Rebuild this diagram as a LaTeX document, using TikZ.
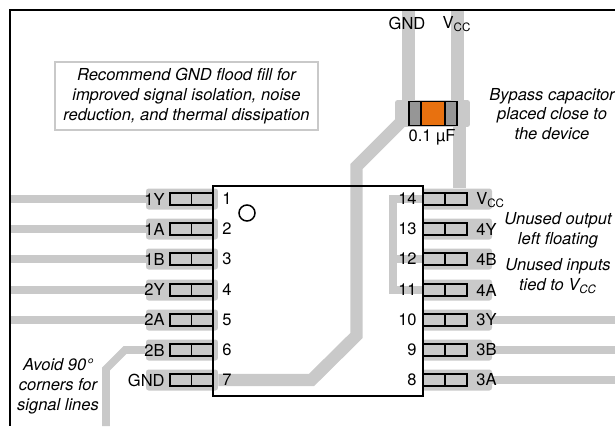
\documentclass[tikz,border=0pt]{standalone}
\usepackage{fontspec}
\setmainfont{TeX Gyre Heros}
\usepackage{tikz}
\usetikzlibrary{calc}
\definecolor{tracegray}{RGB}{201,201,201}
\definecolor{capgray}{RGB}{150,150,150}
\definecolor{caporange}{RGB}{232,113,15}
\newcommand{\vcc}{V\textsubscript{CC}}

\begin{document}
\begin{tikzpicture}[x=0.02cm, y=-0.02cm, inner sep=0pt,
   every node/.style={font=\fontsize{9.4}{11.3}\selectfont, align=center},
   trace/.style={draw=tracegray, line width=4.4pt},
   power/.style={draw=tracegray, line width=7pt},
   land/.style={fill=tracegray, rounded corners=1.5pt, minimum height=0.42cm},
   pinpad/.style={draw, line width=1.05pt, fill=tracegray, minimum width=0.87cm, minimum height=0.24cm,
      path picture={\draw[line width=1.05pt] (path picture bounding box.north) -- (path picture bounding box.south);}},
   note/.style={font=\fontsize{9.4}{11.3}\selectfont\itshape}]
  \useasboundingbox (0,0) rectangle (615,426);
  \coordinate (fl) at (10,0);
  \coordinate (fr) at (615,0);
  \coordinate (ft) at (0,10);
  % lands, left side
  \node[land, minimum width=1.44cm] (l1) at (182,199) {};
  \node[land, minimum width=1.44cm] (l2) at (182,229) {};
  \node[land, minimum width=1.44cm] (l3) at (182,259) {};
  \node[land, minimum width=1.44cm] (l4) at (182,290) {};
  \node[land, minimum width=1.44cm] (l5) at (182,320) {};
  \node[land, minimum width=1.44cm] (l6) at (182,350) {};
  \node[land, minimum width=1.44cm] (l7) at (182,380) {};
  % lands, right side
  \node[land, minimum width=1.4cm] (l14) at (457,199) {};
  \node[land, minimum width=1.4cm] (l13) at (457,229) {};
  \node[land, minimum width=1.4cm] (l12) at (457,259) {};
  \node[land, minimum width=1.4cm] (l11) at (457,290) {};
  \node[land, minimum width=1.4cm] (l10) at (457,320) {};
  \node[land, minimum width=1.4cm] (l9) at (457,350) {};
  \node[land, minimum width=1.4cm] (l8) at (457,380) {};
  \node[land, minimum width=1.5cm, minimum height=0.54cm] (capland) at (432.5,113.5) {};
  % signal traces
  \draw[trace] (l1) -- (l1 -| fl);
  \draw[trace] (l2) -- (l2 -| fl);
  \draw[trace] (l3) -- (l3 -| fl);
  \draw[trace] (l4) -- (l4 -| fl);
  \draw[trace] (l5) -- (l5 -| fl);
  \draw[trace] (l10) -- (l10 -| fr);
  \draw[trace] (l9) -- (l9 -| fr);
  \draw[trace] (l8) -- (l8 -| fr);
  \coordinate (c1) at (125,350);
  \coordinate (c2) at (106,369);
  \coordinate (c3) at (106,426);
  \draw[trace] (l6) -- (c1) -- (c2) -- (c3);
  % power traces
  \coordinate (g1) at (311.5,380);
  \coordinate (g2) at (356.5,335.5);
  \coordinate (g3) at (356.5,166.5);
  \coordinate (g4) at (400,123);
  \draw[power] (l7) -- (g1) -- (g2) -- (g3) -- (g4);
  \coordinate (gt) at (408.5,10);
  \coordinate (vt) at (457.5,10);
  \draw[power] (gt) -- (gt |- capland.north);
  \draw[power] (vt) -- (vt |- capland.north);
  \coordinate (vb) at (459.5,113);
  \draw[power] (vb) -- (vb |- l14.north);
  % note box
  \node[note, draw=tracegray, line width=1.1pt, minimum width=5.26cm, minimum height=1.36cm] (floodnote) at (186.5,96)
     {Recommend GND flood fill for\\ improved signal isolation, noise\\ reduction, and thermal dissipation};
  % pads
  \node[pinpad] (p1) at (191.5,199) {};
  \node[pinpad] (p2) at (191.5,229) {};
  \node[pinpad] (p3) at (191.5,259) {};
  \node[pinpad] (p4) at (191.5,290) {};
  \node[pinpad] (p5) at (191.5,320) {};
  \node[pinpad] (p6) at (191.5,350) {};
  \node[pinpad] (p7) at (191.5,380) {};
  \node[pinpad] (p14) at (445,199) {};
  \node[pinpad] (p13) at (445,229) {};
  \node[pinpad] (p12) at (445,259) {};
  \node[pinpad] (p11) at (445,290) {};
  \node[pinpad] (p10) at (445,320) {};
  \node[pinpad] (p9) at (445,350) {};
  \node[pinpad] (p8) at (445,380) {};
  % tied inputs
  \coordinate (b14) at (393,199);
  \coordinate (b11) at (393,290);
  \draw[trace] (p14.west) -- (b14) -- (b11) -- (p11.west);
  \draw[trace] (b14 |- p12) -- (p12.west);
  % device
  \node[draw, line width=1.2pt, minimum width=4.2cm, minimum height=4.2cm] (ic) at (318,291) {};
  \node[draw, line width=0.85pt, circle, minimum size=0.32cm] (dot) at (247,213) {};
  % capacitor
  \node[draw, line width=1.05pt, fill=caporange, minimum width=0.95cm, minimum height=0.48cm] (cap) at (433,113.5) {};
  \node[draw, line width=1.05pt, fill=capgray, anchor=west, minimum width=0.24cm, minimum height=0.48cm] (capl) at (cap.west) {};
  \node[draw, line width=1.05pt, fill=capgray, anchor=east, minimum width=0.24cm, minimum height=0.48cm] (capr) at (cap.east) {};
  \node (capval) at (432,137) {0.1 µF};
  % pin names
  \node[anchor=east] (n1) at (165,199) {1Y};
  \node[anchor=east] (n2) at (165,229) {1A};
  \node[anchor=east] (n3) at (165,259) {1B};
  \node[anchor=east] (n4) at (165,289) {2Y};
  \node[anchor=east] (n5) at (165,319) {2A};
  \node[anchor=east] (n6) at (165,350) {2B};
  \node[anchor=east] (n7) at (165,380) {GND};
  \node[anchor=west] (n14) at (476,200) {\vcc};
  \node[anchor=west] (n13) at (476,229) {4Y};
  \node[anchor=west] (n12) at (476,259) {4B};
  \node[anchor=west] (n11) at (476,290) {4A};
  \node[anchor=west] (n10) at (476,320) {3Y};
  \node[anchor=west] (n9) at (476,350) {3B};
  \node[anchor=west] (n8) at (476,380) {3A};
  % pin numbers
  \node (m1) at (227,199) {1};
  \node (m2) at (227,229) {2};
  \node (m3) at (227,259) {3};
  \node (m4) at (227,290) {4};
  \node (m5) at (227,320) {5};
  \node (m6) at (227,350) {6};
  \node (m7) at (227,380) {7};
  \node[anchor=east] (m14) at (417,199) {14};
  \node[anchor=east] (m13) at (417,229) {13};
  \node[anchor=east] (m12) at (417,259) {12};
  \node[anchor=east] (m11) at (417,290) {11};
  \node[anchor=east] (m10) at (417,320) {10};
  \node[anchor=east] (m9) at (417,350) {9};
  \node[anchor=east] (m8) at (417,380) {8};
  % rails and notes
  \node (railgnd) at (407,23) {GND};
  \node (railvcc) at (457,24) {\vcc};
  \node[note] (bypassnote) at (552,114) {Bypass capacitor\\ placed close to\\ the device};
  \node[note] (outnote) at (558,230) {Unused output\\ left floating};
  \node[note] (innote) at (558,276) {Unused inputs\\ tied to \vcc};
  \node[note] (cornernote) at (58,386) {Avoid 90°\\ corners for\\ signal lines};
  % frame
  \coordinate (f0) at (fl |- ft);
  \coordinate (f1) at (fl |- c3);
  \draw[line width=1.2pt] (fr |- ft) -- (f0) -- (f1);
\end{tikzpicture}
\end{document}
